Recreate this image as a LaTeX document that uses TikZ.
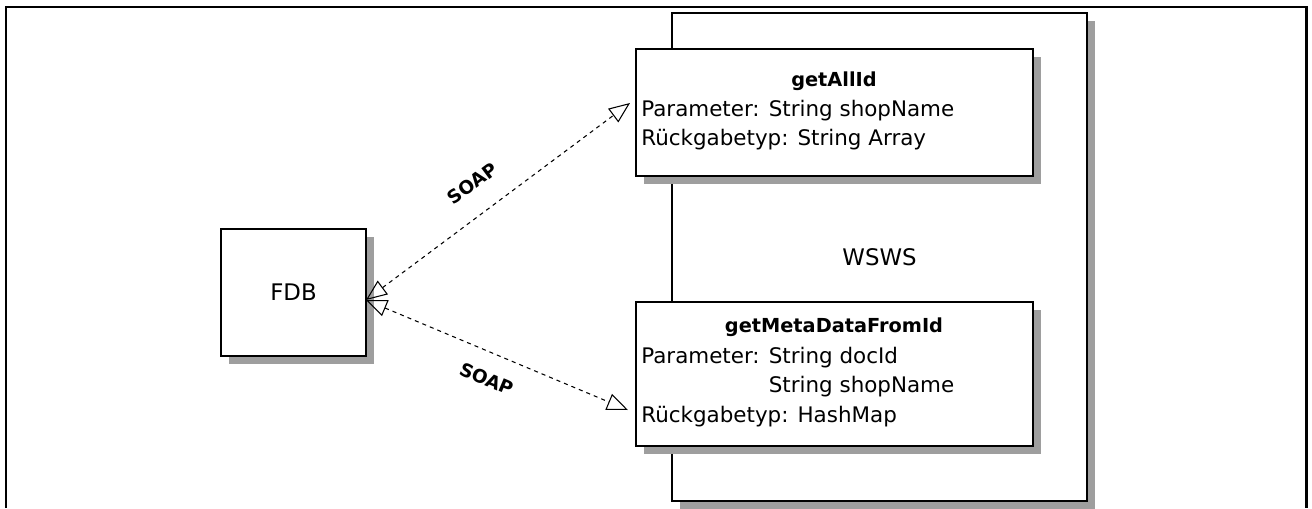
\documentclass[tikz,border=0pt]{standalone}
\usepackage{fontspec}
\setmainfont{DejaVu Sans}
\usetikzlibrary{positioning, arrows.meta, shadows}

\begin{document}
\begin{tikzpicture}[x=0.02cm, y=-0.02cm,
    box/.style={draw, line width=1.1pt, fill=white, inner sep=0pt,
        font=\fontsize{13}{15}\selectfont,
        drop shadow={shadow xshift=0.16cm, shadow yshift=-0.16cm, fill=black!38, opacity=1}},
    optitle/.style={font=\fontsize{11}{13}\selectfont\bfseries, inner sep=0pt},
    opbody/.style={font=\fontsize{12.2}{16.5}\selectfont, align=left, inner sep=0pt, anchor=west},
    soap/.style={line width=0.6pt, dash pattern=on 2.3pt off 2.3pt,
        {Triangle[open, length=0.42cm, width=0.34cm]}-{Triangle[open, length=0.42cm, width=0.34cm]}},
    soaplabel/.style={font=\fontsize{10.5}{12}\selectfont\bfseries, inner sep=1pt, sloped}]

    \useasboundingbox (0,0) rectangle (1312,508);

    % Frame
    \draw[line width=1.7pt] (6,508) -- (6,7) -- (1306,7) -- (1306,508);

    % Define nodes
    \node[box, minimum width=8.3cm, minimum height=9.76cm] (wsws) at (879.5,257) {WSWS};
    \node[box, minimum width=7.94cm, minimum height=2.54cm] (allid) at (834.5,112.5) {};
    \node[box, minimum width=7.94cm, minimum height=2.88cm] (meta) at (834.5,374) {};
    \node[box, minimum width=2.9cm, minimum height=2.54cm] (fdb) at (293.5,292.5) {FDB};

    % Operations
    \node[optitle] (allidname) at (834,81) {getAllId};
    \node[opbody] (allidbody) at (641,125) {Parameter: String shopName\\Rückgabetyp: String Array};
    \node[optitle] (metaname) at (834,327) {getMetaDataFromId};
    \node[opbody, font=\fontsize{12.2}{17}\selectfont] (metabody) at (641,387)
        {Parameter: String docId\\\phantom{Parameter: }String shopName\\Rückgabetyp: HashMap};

    % Draw edges with arrows
    \coordinate (fdbport) at (366,300);
    \coordinate (allidtip) at (630,103);
    \coordinate (metatip) at (628,410);
    \draw[soap] (fdbport) -- node[soaplabel, above=0.41cm, pos=0.47] (soapa) {SOAP} (allidtip);
    \draw[soap] (fdbport) -- node[soaplabel, below=0.33cm, pos=0.5] (soapb) {SOAP} (metatip);

\end{tikzpicture}
\end{document}
